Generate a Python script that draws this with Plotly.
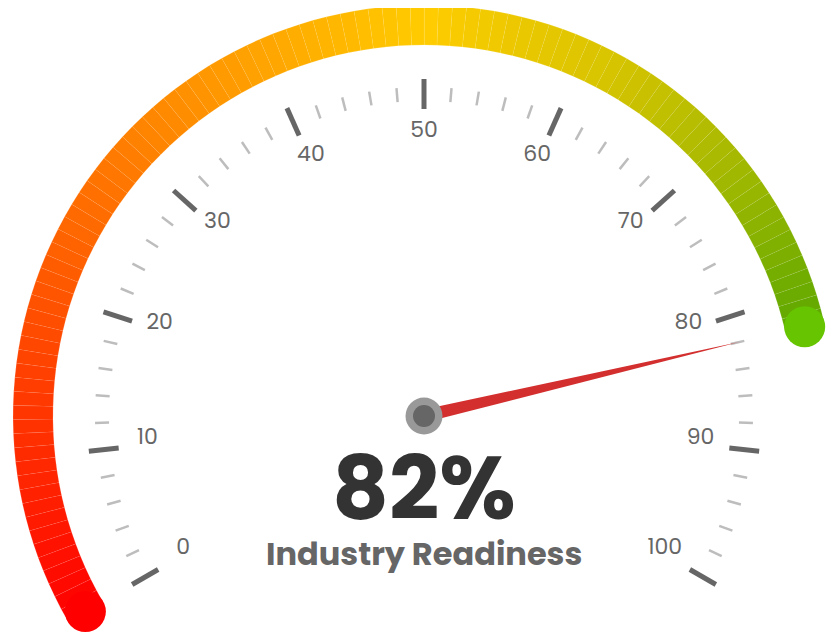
import math
import plotly.graph_objects as go

# ---------------- data ----------------
gauge_value = 82
gauge_min = 0
gauge_max = 100
major_ticks = [0, 10, 20, 30, 40, 50, 60, 70, 80, 90, 100]
major_labels = ["0", "10", "20", "30", "40", "50", "60", "70", "80", "90", "100"]
minor_ticks = [v for v in range(0, 101, 2) if v % 10 != 0]
title_text = "Industry Readiness"

# ---------------- style ----------------
START_DEG = 210.0
SWEEP_DEG = 240.0
R_OUT, R_IN = 411, 371
R_MID = (R_OUT + R_IN) / 2
N_SEG = 100
MAJ_R = (307, 337)
MIN_R = (315, 329)
LABEL_R = 278
LABEL_DY = 7
NEEDLE_R = 325
NEEDLE_HALF = 6.5
color_stops = [(0, (255, 0, 0)), (25, (255, 106, 0)), (50, (255, 204, 0)),
               (62, (214, 196, 0)), (72, (160, 184, 0)), (82, (94, 168, 0)), (100, (60, 150, 0))]
END_CAP_COLOR = "#66c400"
FONT = "Poppins, Inter, 'Open Sans', sans-serif"


def ang(v):
    return math.radians(START_DEG - SWEEP_DEG * (v - gauge_min) / (gauge_max - gauge_min))


def pol(v, r):
    a = ang(v)
    return r * math.cos(a), r * math.sin(a)


def color_at(v):
    for (v0, c0), (v1, c1) in zip(color_stops, color_stops[1:]):
        if v0 <= v <= v1:
            t = (v - v0) / (v1 - v0)
            c = [round(c0[i] + (c1[i] - c0[i]) * t) for i in range(3)]
            return "rgb({},{},{})".format(*c)
    return "rgb({},{},{})".format(*color_stops[-1][1])


fig = go.Figure()

# gradient progress arc
for i in range(N_SEG):
    va = gauge_min + (gauge_value - gauge_min) * i / N_SEG
    vb = gauge_min + (gauge_value - gauge_min) * (i + 1) / N_SEG
    steps = 4
    xs, ys = [], []
    for k in range(steps + 1):
        x, y = pol(va + (vb - va) * k / steps, R_OUT)
        xs.append(x); ys.append(y)
    for k in range(steps, -1, -1):
        x, y = pol(va + (vb - va) * k / steps, R_IN)
        xs.append(x); ys.append(y)
    fig.add_trace(go.Scatter(x=xs, y=ys, mode="lines", fill="toself",
                             fillcolor=color_at((va + vb) / 2),
                             line=dict(width=0.6, color="rgba(255,255,255,0.25)"),
                             hoverinfo="skip", showlegend=False))

# round caps
sx, sy = pol(gauge_min, R_MID)
ex, ey = pol(gauge_value, R_MID)
fig.add_trace(go.Scatter(x=[sx], y=[sy], mode="markers",
                         marker=dict(size=R_OUT - R_IN + 1, color=color_at(gauge_min), line=dict(width=0)),
                         hoverinfo="skip", showlegend=False))
fig.add_trace(go.Scatter(x=[ex], y=[ey], mode="markers",
                         marker=dict(size=R_OUT - R_IN + 1, color=END_CAP_COLOR, line=dict(width=0)),
                         hoverinfo="skip", showlegend=False))

# minor ticks
mx, my = [], []
for v in minor_ticks:
    x0, y0 = pol(v, MIN_R[0]); x1, y1 = pol(v, MIN_R[1])
    mx += [x0, x1, None]; my += [y0, y1, None]
fig.add_trace(go.Scatter(x=mx, y=my, mode="lines", line=dict(width=2.5, color="#bdbdbd"),
                         hoverinfo="skip", showlegend=False))

# major ticks
Mx, My = [], []
for v in major_ticks:
    x0, y0 = pol(v, MAJ_R[0]); x1, y1 = pol(v, MAJ_R[1])
    Mx += [x0, x1, None]; My += [y0, y1, None]
fig.add_trace(go.Scatter(x=Mx, y=My, mode="lines", line=dict(width=5, color="#666666"),
                         hoverinfo="skip", showlegend=False))

# labels
lx = [pol(v, LABEL_R)[0] for v in major_ticks]
ly = [pol(v, LABEL_R)[1] + LABEL_DY for v in major_ticks]
fig.add_trace(go.Scatter(x=lx, y=ly, mode="text", text=major_labels, textposition="middle center",
                         textfont=dict(family=FONT, size=22, color="#666666"),
                         hoverinfo="skip", showlegend=False))

# needle
a = ang(gauge_value)
tx, ty = pol(gauge_value, NEEDLE_R)
px, py = -math.sin(a) * NEEDLE_HALF, math.cos(a) * NEEDLE_HALF
fig.add_trace(go.Scatter(x=[px, tx, -px, px], y=[py, ty, -py, py], mode="lines", fill="toself",
                         fillcolor="#d32f2f", line=dict(width=0, color="#d32f2f"),
                         hoverinfo="skip", showlegend=False))

# pivot
fig.add_trace(go.Scatter(x=[0], y=[0], mode="markers", marker=dict(size=37, color="#999999", line=dict(width=0)),
                         hoverinfo="skip", showlegend=False))
fig.add_trace(go.Scatter(x=[0], y=[0], mode="markers", marker=dict(size=22, color="#666666", line=dict(width=0)),
                         hoverinfo="skip", showlegend=False))

# centre texts
fig.add_annotation(x=0, y=-72, xref="x", yref="y", text=f"{gauge_value}%", showarrow=False,
                   font=dict(family=FONT, size=88, color="#333333", weight=700),
                   xanchor="center", yanchor="middle")
fig.add_annotation(x=0, y=-137, xref="x", yref="y", text=title_text, showarrow=False,
                   font=dict(family=FONT, size=32, color="#666666", weight=700),
                   xanchor="center", yanchor="middle")

fig.update_layout(
    width=834, height=634,
    margin=dict(l=0, r=0, t=0, b=0),
    paper_bgcolor="white", plot_bgcolor="white",
    xaxis=dict(range=[-416, 418], visible=False, fixedrange=True),
    yaxis=dict(range=[-226, 408], visible=False, fixedrange=True),
    showlegend=False,
)
fig.write_html("out.html")
